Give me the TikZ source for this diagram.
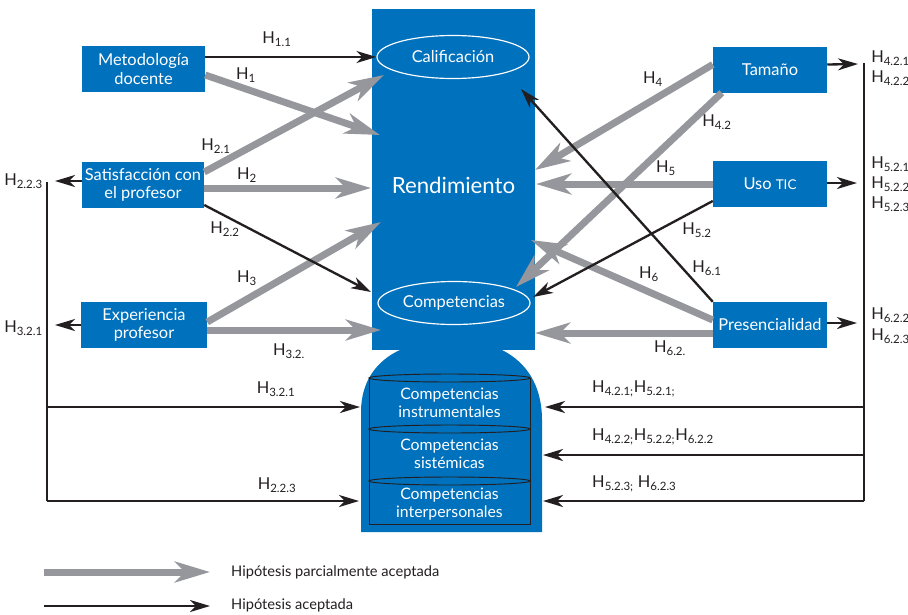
\documentclass[tikz,border=0pt]{standalone}
\usepackage{fontspec}
\setmainfont{Lato}
\usetikzlibrary{arrows.meta,calc,positioning,shapes.geometric}

\definecolor{boxblue}{RGB}{0,113,188}
\definecolor{arrowgray}{RGB}{150,151,156}
\definecolor{inkdark}{RGB}{35,31,32}

\newcommand{\hsub}[1]{H\textsubscript{#1}}

\tikzset{
  factor/.style={fill=boxblue, text=white, align=center, inner sep=0pt,
    minimum height=1.38cm, font=\fontsize{14}{16}\selectfont},
  outcome/.style={ellipse, draw=white, line width=1pt, text=white, inner sep=0pt,
    minimum width=4.56cm, minimum height=1.29cm, font=\fontsize{14}{16}\selectfont},
  stacktext/.style={text=white, align=center, inner sep=0pt,
    font=\fontsize{13.5}{15.5}\selectfont},
  stackline/.style={draw=inkdark, line width=0.8pt},
  partial/.style={draw=arrowgray, line width=0.21cm,
    -{Stealth[length=1.05cm,width=0.62cm,inset=0.3cm]}},
  accepted/.style={draw=inkdark, line width=0.07cm,
    -{Stealth[length=0.6cm,width=0.36cm,inset=0.18cm]}},
  hlabel/.style={text=inkdark, inner sep=0pt, font=\fontsize{14}{16}\selectfont},
  legendtext/.style={text=inkdark, anchor=west, inner sep=0pt, font=\fontsize{12.5}{14}\selectfont}
}

\begin{document}
\begin{tikzpicture}[x=0.03cm, y=-0.03cm]
\useasboundingbox (0,0) rectangle (908,614);

% central block
\fill[boxblue] (361,532) -- (361,412) .. controls (361,380) and (378,360) .. (400,350)
  -- (502,350) .. controls (526,362) and (542,385) .. (542,420) -- (542,532) -- cycle;
\node[fill=boxblue, inner sep=0pt, minimum width=4.89cm, minimum height=10.23cm] (rend) at (453.5,179.5) {};
\node[text=white, font=\fontsize{19}{22}\selectfont] (rendlbl) at (453.5,185) {Rendimiento};
\node[outcome] (calif) at (453,57) {Calificación};
\node[outcome] (compet) at (454,303) {Competencias};

% stack of competencias
\draw[stackline] (369,378) -- (369,524) -- (530,524) -- (530,378);
\foreach \y in {378,429,481}
  \draw[stackline] (449.5,\y) ellipse [x radius=80.5, y radius=4];
\node[stacktext] (instr) at (449.5,403) {Competencias\\instrumentales};
\node[stacktext] (sistem) at (449.5,454) {Competencias\\sistémicas};
\node[stacktext] (interp) at (449.5,504) {Competencias\\interpersonales};

% factors
\node[factor, minimum width=3.69cm] (meto) at (143.5,69) {Metodología\\docente};
\node[factor, minimum width=3.66cm] (satis) at (143,185) {Satisfacción con\\el profesor};
\node[factor, minimum width=3.78cm] (exper) at (144,325) {Experiencia\\profesor};
\node[factor, minimum width=3.42cm] (tam) at (770,69.5) {Tamaño};
\node[factor, minimum width=3.42cm] (uso) at (770,184) {Uso {\fontsize{11.5}{14}\selectfont TIC}};
\node[factor, minimum width=3.42cm] (pres) at (770,325) {Presencialidad};

% arrow ends
\coordinate (end1) at (380,135);
\coordinate (end21) at (384,75);
\coordinate (end2) at (371,188);
\coordinate (end22) at (371,292);
\coordinate (end3) at (381,222);
\coordinate (end32) at (381,330);
\coordinate (end4) at (535,170);
\coordinate (end42) at (516,287);
\coordinate (end5) at (536,184);
\coordinate (end52) at (533,297);
\coordinate (end61) at (521,89);
\coordinate (end6) at (531,240);
\coordinate (end62) at (535,333);
\coordinate (outsatis) at (55,181);
\coordinate (outexper) at (55,325);
\coordinate (outtam) at (858,64);
\coordinate (outuso) at (857,183);
\coordinate (outpres) at (857,323);
\coordinate (lbustop) at (47,182);
\coordinate (lbusbot) at (47,501);
\coordinate (rbustop) at (864,63);
\coordinate (rbusbot) at (864,501);
\coordinate (instrL) at (360,407);
\coordinate (interpL) at (359,501);
\coordinate (instrR) at (545,407);
\coordinate (sistemR) at (543,455);
\coordinate (interpR) at (543,501);

% partially accepted
\draw[partial] ($(meto.east)+(0,6)$) -- (end1);
\draw[partial] ($(satis.east)+(0,-13)$) -- (end21);
\draw[partial] ($(satis.east)+(0,3)$) -- (end2);
\draw[partial] ($(exper.east)+(0,-3)$) -- (end3);
\draw[partial] ($(exper.east)+(0,5)$) -- (end32);
\draw[partial] ($(tam.west)+(0,-5)$) -- (end4);
\draw[partial] ($(tam.south west)+(9,0)$) -- (end42);
\draw[partial] (uso.west) -- (end5);
\draw[partial] ($(pres.west)+(0,-5)$) -- (end6);
\draw[partial] ($(pres.west)+(0,8)$) -- (end62);

% accepted
\draw[accepted] ($(meto.east)+(0,-12)$) -- (calif.west);
\draw[accepted] ($(satis.east)+(0,20)$) -- (end22);
\draw[accepted] ($(uso.west)+(0,17)$) -- (end52);
\draw[accepted] (pres.north west) -- (end61);
\draw[accepted] ($(satis.west)+(0,-4)$) -- (outsatis);
\draw[accepted] (exper.west) -- (outexper);
\draw[accepted] ($(tam.east)+(0,-5)$) -- (outtam);
\draw[accepted] ($(uso.east)+(0,-1)$) -- (outuso);
\draw[accepted] ($(pres.east)+(0,-2)$) -- (outpres);
\draw[inkdark, line width=0.08cm] (lbustop) -- (lbusbot);
\draw[inkdark, line width=0.08cm] (rbustop) -- (rbusbot);
\draw[accepted] (lbustop |- instrL) -- (instrL);
\draw[accepted] (lbusbot) -- (interpL);
\draw[accepted] (rbustop |- instrR) -- (instrR);
\draw[accepted] (rbustop |- sistemR) -- (sistemR);
\draw[accepted] (rbusbot) -- (interpR);

% hypothesis labels
\node[hlabel] (l11) at (277,39) {\hsub{1.1}};
\node[hlabel] (l1) at (246,75) {\hsub{1}};
\node[hlabel] (l21) at (216,146) {\hsub{2.1}};
\node[hlabel] (l2) at (247,175) {\hsub{2}};
\node[hlabel] (l22) at (225,229) {\hsub{2.2}};
\node[hlabel] (l3) at (247,278) {\hsub{3}};
\node[hlabel] (l32) at (289,351) {\hsub{3.2.}};
\node[hlabel, anchor=east] (l223) at (43,181) {\hsub{2.2.3}};
\node[hlabel, anchor=east] (l321) at (43,328) {\hsub{3.2.1}};
\node[hlabel] (b321) at (276,389) {\hsub{3.2.1}};
\node[hlabel] (b223) at (277,485) {\hsub{2.2.3}};
\node[hlabel] (l4) at (653,79) {\hsub{4}};
\node[hlabel] (l42) at (717,122) {\hsub{4.2}};
\node[hlabel] (l5) at (666,168) {\hsub{5}};
\node[hlabel] (l52) at (697,230) {\hsub{5.2}};
\node[hlabel] (l61) at (707,268) {\hsub{6.1}};
\node[hlabel] (l6) at (649,274) {\hsub{6}};
\node[hlabel] (l62) at (670,348) {\hsub{6.2.}};
\node[hlabel, anchor=west] (r421) at (871,58) {\hsub{4.2.1}};
\node[hlabel, anchor=west] (r422) at (871,78) {\hsub{4.2.2}};
\node[hlabel, anchor=west] (r521) at (871,164) {\hsub{5.2.1}};
\node[hlabel, anchor=west] (r522) at (871,184) {\hsub{5.2.2}};
\node[hlabel, anchor=west] (r523) at (871,204) {\hsub{5.2.3}};
\node[hlabel, anchor=west] (r622) at (871,315) {\hsub{6.2.2}};
\node[hlabel, anchor=west] (r623) at (871,336) {\hsub{6.2.3}};
\node[hlabel, anchor=west] (b1) at (592,389) {\hsub{4.2.1;}\hsub{5.2.1;}};
\node[hlabel, anchor=west] (b2) at (592,437) {\hsub{4.2.2;}\hsub{5.2.2;}\hsub{6.2.2}};
\node[hlabel, anchor=west] (b3) at (592,484) {\hsub{5.2.3;} \hsub{6.2.3}};

% legend
\node[legendtext] (legpartial) at (231,572) {Hipótesis parcialmente aceptada};
\node[legendtext] (legaccepted) at (231,605) {Hipótesis aceptada};
\coordinate (legpstart) at (44,572);
\coordinate (legastart) at (44,606);
\draw[partial] (legpstart) -- ($(legpartial.west)+(-21,0)$);
\draw[accepted] (legastart) -- ($(legaccepted.west)+(-21,1)$);
\end{tikzpicture}
\end{document}
